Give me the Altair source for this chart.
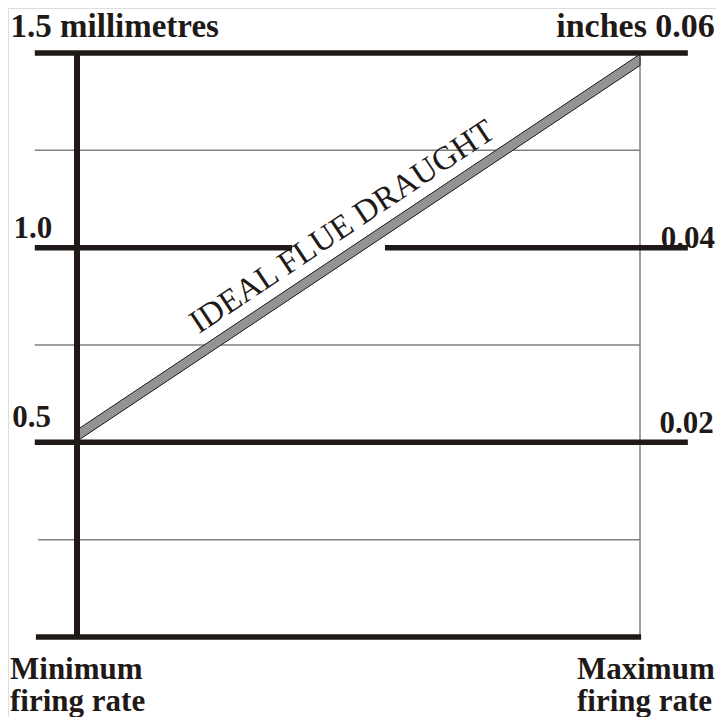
import altair as alt
import pandas as pd

# ---- data ----
# thin (minor) gridlines, millimetres
minor_y = [1.25, 0.75, 0.25]
minor_x0 = [-0.075, -0.075, -0.069]
minor_x1 = [1.0, 1.0, 1.0]

# thick (major) gridline segments, millimetres; the 1.0 line has a gap
major_y = [1.5, 1.0, 1.0, 0.5, 0.0]
major_x0 = [-0.075, -0.075, 0.547, -0.075, -0.073]
major_x1 = [1.085, 0.382, 1.085, 1.085, 1.002]

# ideal flue draught band (firing rate 0 = minimum, 1 = maximum)
band_x = [0.0, 1.0]
band_lo = [0.503, 1.468]
band_hi = [0.532, 1.497]

# axis/label texts
left_text = ["1.5  millimetres", "1.0", "0.5", "Minimum\nfiring rate", "Maximum\nfiring rate"]
left_x = [-0.118, -0.113, -0.115, -0.119, 0.888]
left_y = [1.541, 1.025, 0.539, -0.108, -0.108]
left_fs = [33, 31, 31, 31, 31]

right_text = ["inches 0.06", "0.04", "0.02"]
right_x = [1.133, 1.133, 1.131]
right_y = [1.541, 0.999, 0.524]
right_fs = [34, 31, 31]

BLACK = "#1f1a17"
GRAY = "#808080"
FONT = "Liberation Serif"

W, H = 708, 709
xs = alt.Scale(domain=[-69 / 563, (W - 69) / 563], nice=False, zero=False)
ys = alt.Scale(domain=[-(H - 629) / 389.333, 1.5 + 45 / 389.333], nice=False, zero=False)

minor = pd.DataFrame({"y": minor_y, "x0": minor_x0, "x1": minor_x1})
major = pd.DataFrame({"y": major_y, "x0": major_x0, "x1": major_x1})
band = pd.DataFrame({"x": band_x, "lo": band_lo, "hi": band_hi})
vert = pd.DataFrame({"x": [0.0, 1.0], "y0": [0.0, 0.0], "y1": [1.5, 1.49]})
lt = pd.DataFrame({"t": left_text, "x": left_x, "y": left_y, "fs": left_fs})
rt = pd.DataFrame({"t": right_text, "x": right_x, "y": right_y, "fs": right_fs})
diag = pd.DataFrame({"t": ["IDEAL FLUE DRAUGHT"], "x": [0.481], "y": [1.032]})

X = lambda f: alt.X(f, type="quantitative", scale=xs, axis=None)
Y = lambda f: alt.Y(f, type="quantitative", scale=ys, axis=None)

minor_l = alt.Chart(minor).mark_rule(color=GRAY, strokeWidth=1.5).encode(
    x=X("x0"), x2="x1", y=Y("y"))
right_v = alt.Chart(vert.iloc[[1]]).mark_rule(color=GRAY, strokeWidth=1.5).encode(
    x=X("x"), y=Y("y0"), y2="y1")
band_l = alt.Chart(band).mark_area(fill="#939393", stroke=BLACK, strokeWidth=1).encode(
    x=X("x"), y=Y("lo"), y2="hi")
left_t = alt.Chart(lt).mark_text(align="left", baseline="alphabetic", font=FONT,
                                 fontWeight="bold", color=BLACK, lineBreak="\n",
                                 lineHeight=32).encode(
    x=X("x"), y=Y("y"), text="t:N", size=alt.Size("fs:Q", scale=None, legend=None))
right_t = alt.Chart(rt).mark_text(align="right", baseline="alphabetic", font=FONT,
                                  fontWeight="bold", color=BLACK).encode(
    x=X("x"), y=Y("y"), text="t:N", size=alt.Size("fs:Q", scale=None, legend=None))
diag_t = alt.Chart(diag).mark_text(align="center", baseline="alphabetic", font=FONT,
                                   fontSize=33, angle=326.4,
                                   color=BLACK).encode(
    x=X("x"), y=Y("y"), text="t:N")
major_l = alt.Chart(major).mark_rule(color=BLACK, strokeWidth=5.5).encode(
    x=X("x0"), x2="x1", y=Y("y"))
left_v = alt.Chart(vert.iloc[[0]]).mark_rule(color=BLACK, strokeWidth=6).encode(
    x=X("x"), y=Y("y0"), y2="y1")

chart = alt.layer(minor_l, right_v, band_l, left_t, right_t, diag_t, major_l, left_v).properties(
    width=W, height=H, padding=0,
    autosize=alt.AutoSizeParams(type="none"),
).configure_view(stroke=None).configure(background="white")

chart.save("out.html", embed_options={"renderer": "svg", "actions": False})
